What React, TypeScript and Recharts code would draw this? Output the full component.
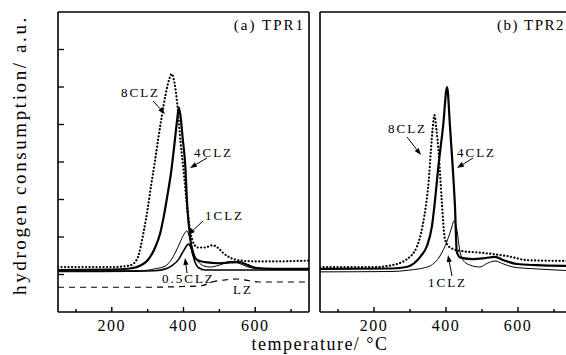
import React from 'react';
import { LineChart, Line, XAxis, YAxis } from 'recharts';

// (a) TPR1 -- temperature (°C) and hydrogen consumption (a.u.)
const a8T = [50, 200, 250, 270, 290, 300, 310, 320, 330, 340, 350, 360, 367, 375, 382, 392, 400, 410, 420, 430, 440, 460, 480, 495, 510, 530, 560, 600, 650, 750];
const a8V = [1.2, 1.2, 1.24, 1.4, 2.2, 2.75, 3.4, 4.0, 4.65, 5.25, 5.8, 6.2, 6.35, 6.1, 5.6, 4.5, 3.8, 2.8, 2.1, 1.8, 1.72, 1.72, 1.78, 1.72, 1.58, 1.45, 1.37, 1.35, 1.35, 1.37];
const a4T = [50, 200, 250, 280, 300, 320, 335, 345, 355, 365, 375, 382, 387, 392, 398, 405, 410, 415, 420, 428, 440, 460, 500, 530, 555, 580, 600, 650, 750];
const a4V = [1.12, 1.13, 1.16, 1.24, 1.38, 1.7, 2.1, 2.55, 3.1, 3.7, 4.5, 5.1, 5.45, 5.2, 4.6, 3.9, 2.9, 2.3, 1.87, 1.5, 1.38, 1.33, 1.3, 1.32, 1.33, 1.25, 1.18, 1.15, 1.15];
const a1T = [50, 200, 280, 320, 350, 365, 378, 390, 400, 409, 415, 422, 433, 445, 460, 475, 500, 530, 555, 580, 620, 750];
const a1V = [1.08, 1.09, 1.1, 1.15, 1.23, 1.38, 1.6, 1.85, 2.05, 2.16, 2.05, 1.81, 1.47, 1.3, 1.22, 1.2, 1.25, 1.35, 1.3, 1.2, 1.15, 1.15];
const a05T = [50, 250, 320, 350, 370, 387, 400, 414, 422, 431, 442, 460, 500, 600, 750];
const a05V = [1.08, 1.09, 1.1, 1.15, 1.25, 1.41, 1.63, 1.81, 1.68, 1.36, 1.18, 1.12, 1.12, 1.12, 1.12];
const aLzT = [50, 300, 400, 450, 480, 520, 550, 580, 610, 750];
const aLzV = [0.66, 0.66, 0.68, 0.7, 0.8, 0.86, 0.88, 0.84, 0.8, 0.8];

// (b) TPR2
const b8T = [50, 200, 250, 290, 320, 335, 345, 352, 358, 363, 368, 373, 380, 388, 397, 410, 440, 500, 570, 630, 750];
const b8V = [1.2, 1.2, 1.25, 1.4, 1.76, 2.3, 2.9, 3.5, 4.3, 4.9, 5.25, 4.9, 4.2, 3.0, 1.95, 1.73, 1.63, 1.58, 1.49, 1.38, 1.36];
const b4T = [50, 250, 290, 330, 347, 361, 369, 378, 392, 403, 411, 419, 425, 430, 440, 475, 510, 536, 560, 597, 650, 750];
const b4V = [1.15, 1.16, 1.2, 1.49, 1.76, 2.29, 2.93, 3.81, 4.96, 6.0, 4.96, 3.81, 2.8, 1.6, 1.45, 1.41, 1.44, 1.47, 1.38, 1.28, 1.25, 1.23];
const b1T = [50, 250, 300, 340, 356, 383, 403, 417, 422, 430, 439, 450, 467, 494, 515, 536, 560, 586, 650, 750];
const b1V = [1.07, 1.08, 1.12, 1.18, 1.23, 1.49, 1.89, 2.29, 2.43, 2.21, 1.6, 1.35, 1.25, 1.2, 1.3, 1.36, 1.28, 1.2, 1.15, 1.1];

const xTicks = [100, 200, 300, 400, 500, 600, 700];
const xLabels = [200, 400, 600];
const yTicks = [1, 2, 3, 4, 5, 6, 7];

const zip = (t: number[], v: number[]) => t.map((x, i) => ({ t: x, v: v[i] }));

const FONT = '"Liberation Serif", "DejaVu Serif", serif';

const XTick = (props: any) => {
  const { x, y, payload } = props;
  const major = xLabels.includes(payload.value);
  return (
    <g>
      <line x1={x} y1={y} x2={x} y2={y - (major ? 5 : 3)} stroke="#000" strokeWidth={1.4} />
      {major && (
        <text x={x} y={y + 19} textAnchor="middle" fontFamily={FONT} fontSize={16} letterSpacing={1.5} fill="#000">
          {payload.value}
        </text>
      )}
    </g>
  );
};

const YTickLeft = (props: any) => {
  const { x, y } = props;
  return <line x1={x} y1={y} x2={x + 6} y2={y} stroke="#000" strokeWidth={1.3} />;
};

const YTickRight = (props: any) => {
  const { x, y } = props;
  return <line x1={x} y1={y} x2={x - 7} y2={y} stroke="#000" strokeWidth={1.3} />;
};

const Panel = ({ series, left }: { series: any[]; left: boolean }) => (
  <LineChart width={left ? 320 : 272} height={355} margin={{ top: 0, right: 0, bottom: 0, left: 0 }}>
    <XAxis
      xAxisId="b"
      type="number"
      dataKey="t"
      domain={[50, 750]}
      ticks={xTicks}
      height={43}
      tickSize={0}
      tickMargin={0}
      tick={<XTick />}
      tickLine={false}
      axisLine={{ stroke: '#000', strokeWidth: 1.6 }}
      allowDataOverflow
    />
    <XAxis
      xAxisId="t"
      orientation="top"
      type="number"
      dataKey="t"
      domain={[50, 750]}
      height={12}
      tick={false}
      tickLine={false}
      axisLine={{ stroke: '#000', strokeWidth: 1.6 }}
    />
    <YAxis
      yAxisId="l"
      domain={[0, 8]}
      ticks={yTicks}
      width={left ? 58 : 10}
      tickSize={0}
      tickMargin={0}
      tick={left ? <YTickLeft /> : false}
      tickLine={false}
      axisLine={{ stroke: '#000', strokeWidth: 1.6 }}
      allowDataOverflow
    />
    <YAxis
      yAxisId="r"
      orientation="right"
      domain={[0, 8]}
      ticks={yTicks}
      width={left ? 11 : 10}
      tickSize={0}
      tickMargin={0}
      tick={left ? false : <YTickRight />}
      tickLine={false}
      axisLine={{ stroke: '#000', strokeWidth: 1.6 }}
    />
    {series.map((s) => (
      <Line
        key={s.name}
        xAxisId="b"
        yAxisId="l"
        data={s.data}
        dataKey="v"
        type="monotone"
        stroke="#000"
        strokeWidth={s.w}
        strokeDasharray={s.dash}
        strokeLinecap={s.cap}
        dot={false}
        activeDot={false}
        isAnimationActive={false}
      />
    ))}
  </LineChart>
);

const leftSeries = [
  { name: '8CLZ', data: zip(a8T, a8V), w: 2.2, dash: '0.1 3.4', cap: 'round' },
  { name: '4CLZ', data: zip(a4T, a4V), w: 2.2 },
  { name: '1CLZ', data: zip(a1T, a1V), w: 1 },
  { name: '0.5CLZ', data: zip(a05T, a05V), w: 1.6 },
  { name: 'LZ', data: zip(aLzT, aLzV), w: 1.2, dash: '6 5' },
];

const rightSeries = [
  { name: '8CLZ', data: zip(b8T, b8V), w: 2.2, dash: '0.1 3.4', cap: 'round' },
  { name: '4CLZ', data: zip(b4T, b4V), w: 2.2 },
  { name: '1CLZ', data: zip(b1T, b1V), w: 1 },
];

const Arrow = ({ x1, y1, x2, y2 }: { x1: number; y1: number; x2: number; y2: number }) => {
  const a = Math.atan2(y2 - y1, x2 - x1);
  const L = 7;
  const W = 2.6;
  const bx = x2 - L * Math.cos(a);
  const by = y2 - L * Math.sin(a);
  const px = -Math.sin(a) * W;
  const py = Math.cos(a) * W;
  return (
    <g>
      <line x1={x1} y1={y1} x2={bx} y2={by} stroke="#000" strokeWidth={1} />
      <polygon points={`${x2},${y2} ${bx + px},${by + py} ${bx - px},${by - py}`} fill="#000" />
    </g>
  );
};

const Lbl = ({ x, y, children, size = 13, anchor = 'start', ls = 2 }: any) => (
  <text x={x} y={y} fontFamily={FONT} fontSize={size} letterSpacing={ls} fill="#000" textAnchor={anchor}>
    {children}
  </text>
);

export default function App() {
  return (
    <div style={{ position: 'absolute', left: 0, top: 0, width: 566, height: 355, overflow: 'hidden', background: '#fff' }}>
      <div style={{ position: 'absolute', left: 0, top: 0 }}>
        <Panel series={leftSeries} left />
      </div>
      <div style={{ position: 'absolute', left: 310, top: 0 }}>
        <Panel series={rightSeries} left={false} />
      </div>
      <svg width={566} height={355} style={{ position: 'absolute', left: 0, top: 0, pointerEvents: 'none' }}>
        <Lbl x={305} y={30} size={15} anchor="end">(a) TPR1</Lbl>
        <Lbl x={565} y={30} size={15} anchor="end" ls={1.5}>(b) TPR2</Lbl>

        <Lbl x={121} y={97}>8CLZ</Lbl>
        <Arrow x1={153} y1={101} x2={165} y2={114} />
        <Lbl x={194} y={157}>4CLZ</Lbl>
        <Arrow x1={207} y1={158} x2={190} y2={168} />
        <Lbl x={205} y={220}>1CLZ</Lbl>
        <Arrow x1={203} y1={221} x2={188} y2={235} />
        <Lbl x={162} y={283}>0.5CLZ</Lbl>
        <Arrow x1={187} y1={273} x2={185} y2={258} />
        <Lbl x={233} y={294}>LZ</Lbl>

        <Lbl x={388} y={133}>8CLZ</Lbl>
        <Arrow x1={407} y1={137} x2={421} y2={155} />
        <Lbl x={457} y={157}>4CLZ</Lbl>
        <Arrow x1={473} y1={158} x2={457} y2={168} />
        <Lbl x={428} y={287}>1CLZ</Lbl>
        <Arrow x1={452} y1={276} x2={448} y2={255} />

        <text x={320} y={350} textAnchor="middle" fontFamily={FONT} fontSize={18} letterSpacing={1.5} fill="#000">
          temperature/ °C
        </text>
        <text
          x={26}
          y={155}
          transform="rotate(-90 26 155)"
          textAnchor="middle"
          fontFamily={FONT}
          fontSize={19}
          letterSpacing={2.6}
          fill="#000"
        >
          hydrogen consumption/ a.u.
        </text>
      </svg>
    </div>
  );
}
